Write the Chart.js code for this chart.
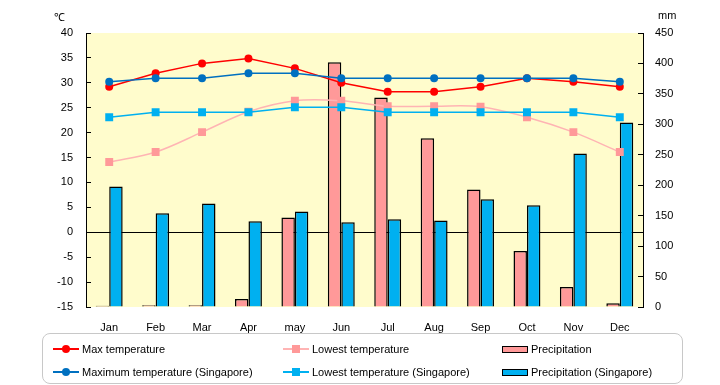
<!DOCTYPE html>
<html>
<head>
<meta charset="utf-8">
<script src="https://cdn.jsdelivr.net/npm/chart.js@4.4.0/dist/chart.umd.min.js"></script>
<style>
body { margin: 0; background: #fff; font-family: "Liberation Sans", Arial, sans-serif; }
#wrap { position: relative; width: 720px; height: 385px; }
#chart { position: absolute; left: 0; top: 0; }
.unit { position: absolute; font-size: 11px; color: #000; }
#legend { position: absolute; left: 42px; top: 333px; width: 641px; height: 51px; border: 1px solid #c8c8c8; border-radius: 8px; box-sizing: border-box; }
.item { position: absolute; height: 14px; font-size: 11px; line-height: 14px; white-space: nowrap; color: #000; }
.item .txt { position: absolute; left: 29px; top: 0; }
</style>
</head>
<body>
<div id="wrap">
  <canvas id="chart" width="720" height="385"></canvas>
  <div class="unit" style="left:54px;top:9px;">℃</div>
  <div class="unit" style="left:658px;top:9px;">mm</div>
  <div id="legend"></div>
</div>
<script>
const months = ['Jan', 'Feb', 'Mar', 'Apr', 'may', 'Jun', 'Jul', 'Aug', 'Sep', 'Oct', 'Nov', 'Dec'];
const maxTemp = [29.2, 31.9, 33.9, 34.9, 32.9, 30.0, 28.2, 28.2, 29.2, 30.9, 30.2, 29.2];
const minTemp = [14.1, 16.1, 20.1, 24.2, 26.4, 26.4, 25.3, 25.3, 25.2, 23.1, 20.1, 16.1];
const rain = [2, 3, 3, 13, 147, 402, 344, 277, 193, 92, 33, 6];
const sgMaxTemp = [30.2, 30.9, 30.9, 31.9, 31.9, 30.9, 30.9, 30.9, 30.9, 30.9, 30.9, 30.2];
const sgMinTemp = [23.1, 24.1, 24.1, 24.1, 25.1, 25.1, 24.1, 24.1, 24.1, 24.1, 24.1, 23.1];
const sgRain = [198, 154, 170, 141, 157, 139, 144, 142, 177, 167, 252, 303];

const plotBg = {
  id: 'plotBg',
  beforeDraw(chart) {
    const a = chart.chartArea, ctx = chart.ctx;
    ctx.save();
    ctx.fillStyle = '#FFFCCC';
    ctx.fillRect(a.left, a.top, a.right - a.left, a.bottom - a.top);
    ctx.restore();
  }
};

const font = { family: '"Liberation Sans", Arial, sans-serif', size: 11 };

const chart = new Chart(document.getElementById('chart'), {
  data: {
    labels: months,
    datasets: [{
      type: 'line', label: 'Max temperature', data: maxTemp, yAxisID: 'y', order: 1,
      borderColor: '#FF0000', backgroundColor: '#FF0000', borderWidth: 1.5,
      pointRadius: 4, pointBorderWidth: 0, pointStyle: 'circle', tension: 0
    }, {
      type: 'line', label: 'Lowest temperature', data: minTemp, yAxisID: 'y', order: 1,
      borderColor: '#FFB4B4', backgroundColor: '#FF9999', borderWidth: 1.5,
      pointRadius: 5.6, pointBorderWidth: 0, pointStyle: 'rect', tension: 0.35
    }, {
      type: 'bar', label: 'Precipitation', data: rain, yAxisID: 'y2', order: 2,
      backgroundColor: '#FF9999', borderColor: '#000', borderWidth: 1.5,
      categoryPercentage: 0.58, barPercentage: 1
    }, {
      type: 'line', label: 'Maximum temperature (Singapore)', data: sgMaxTemp, yAxisID: 'y', order: 0,
      borderColor: '#0070C0', backgroundColor: '#0070C0', borderWidth: 1.5,
      pointRadius: 4, pointBorderWidth: 0, pointStyle: 'circle', tension: 0
    }, {
      type: 'line', label: 'Lowest temperature (Singapore)', data: sgMinTemp, yAxisID: 'y', order: 0,
      borderColor: '#00B0F0', backgroundColor: '#00B0F0', borderWidth: 1.5,
      pointRadius: 5.6, pointBorderWidth: 0, pointStyle: 'rect', tension: 0
    }, {
      type: 'bar', label: 'Precipitation (Singapore)', data: sgRain, yAxisID: 'y2', order: 2,
      backgroundColor: '#00B0F0', borderColor: '#000', borderWidth: 1.5,
      categoryPercentage: 0.58, barPercentage: 1
    }]
  },
  options: {
    responsive: false,
    animation: false,
    layout: { padding: { top: 33, left: 0, right: 0, bottom: 0 } },
    plugins: { legend: { display: false }, tooltip: { enabled: false } },
    scales: {
      x: {
        offset: true,
        grid: { display: false },
        border: { display: false },
        ticks: { color: '#000', font: font, padding: 6, maxRotation: 0 },
        afterFit(s) { s.height = 78; }
      },
      y: {
        position: 'left', min: -15, max: 40,
        ticks: { stepSize: 5, color: '#000', font: font, padding: 18 },
        grid: {
          color: c => c.tick && c.tick.value === 0 ? '#000' : 'rgba(0,0,0,0)',
          tickColor: '#000', tickLength: -5, lineWidth: 1
        },
        border: { color: '#000', width: 1 },
        afterFit(s) { s.width = 86; }
      },
      y2: {
        position: 'right', min: 0, max: 450,
        ticks: { stepSize: 50, color: '#000', font: font, padding: 17 },
        grid: { drawOnChartArea: false, tickColor: '#000', tickLength: -5 },
        border: { color: '#000', width: 1 },
        afterFit(s) { s.width = 77; }
      }
    }
  },
  plugins: [plotBg]
});

// legend in 3 columns x 2 rows, like the original
const cols = [10, 240, 459];
const rows = [8, 31];
const slots = [[0, 0], [1, 0], [2, 0], [0, 1], [1, 1], [2, 1]];
const legend = document.getElementById('legend');
chart.data.datasets.forEach((ds, i) => {
  const el = document.createElement('div');
  el.className = 'item';
  el.style.left = cols[slots[i][0]] + 'px';
  el.style.top = rows[slots[i][1]] + 'px';
  let mark;
  if (ds.type === 'bar') {
    mark = `<span style="position:absolute;left:0;top:4px;width:26px;height:7px;box-sizing:border-box;border:1px solid #000;background:${ds.backgroundColor}"></span>`;
  } else {
    const round = ds.pointStyle === 'circle';
    const sz = 8;
    mark = `<span style="position:absolute;left:0;top:6px;width:26px;height:2px;background:${ds.borderColor}"></span>` +
      `<span style="position:absolute;left:${13 - sz / 2}px;top:${7 - sz / 2}px;width:${sz}px;height:${sz}px;border-radius:${round ? '50%' : '0'};background:${ds.backgroundColor}"></span>`;
  }
  el.innerHTML = mark + `<span class="txt">${ds.label}</span>`;
  legend.appendChild(el);
});
</script>
</body>
</html>
